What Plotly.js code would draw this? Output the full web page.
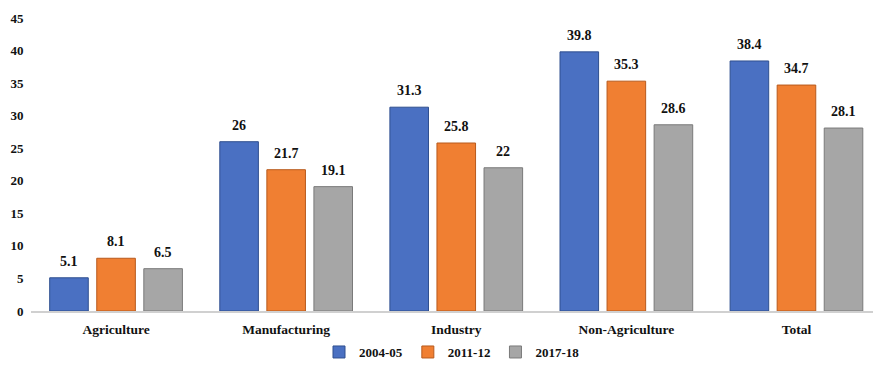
<!DOCTYPE html>
<html>
<head>
<meta charset="utf-8">
<script src="https://cdn.plot.ly/plotly-3.0.1.min.js"></script>
<style>
html,body{margin:0;padding:0;background:#fff;}
#chart{width:873px;height:370px;}
</style>
</head>
<body>
<div id="chart"></div>
<script>
const categories = ["Agriculture", "Manufacturing", "Industry", "Non-Agriculture", "Total"];
const seriesNames = ["2004-05", "2011-12", "2017-18"];
const values2004 = [5.1, 26, 31.3, 39.8, 38.4];
const values2011 = [8.1, 21.7, 25.8, 35.3, 34.7];
const values2017 = [6.5, 19.1, 22, 28.6, 28.1];
const yTicks = [0, 5, 10, 15, 20, 25, 30, 35, 40, 45];

const seriesValues = [values2004, values2011, values2017];
const fills = ["#4a70c2", "#f07f32", "#a6a6a6"];
const edges = ["#2f4f8f", "#b85a1c", "#7a7a7a"];
const fontFam = "Liberation Serif, Times New Roman, serif";

const traces = seriesValues.map((vals, i) => ({
  type: "bar",
  name: "<b>" + seriesNames[i] + "</b>",
  x: categories,
  y: vals,
  marker: {color: fills[i], line: {color: edges[i], width: 1}},
  hoverinfo: "skip"
}));

const annotations = [];
seriesValues.forEach((vals, i) => {
  vals.forEach((v, j) => {
    annotations.push({
      x: categories[j], y: v, xref: "x", yref: "y",
      text: "<b>" + String(v) + "</b>", showarrow: false,
      xshift: (i - 1) * 47, yshift: 7, yanchor: "bottom",
      font: {family: fontFam, size: 14, color: "#111"}
    });
  });
});

const layout = {
  width: 873, height: 370,
  margin: {l: 31, r: 0, t: 18, b: 59},
  paper_bgcolor: "#fff", plot_bgcolor: "#fff",
  barmode: "group", bargap: 0.17, bargroupgap: 0.18,
  font: {family: fontFam, color: "#111"},
  xaxis: {
    type: "category", range: [-0.5, 4.45],
    tickvals: categories, ticktext: categories.map(c => "<b>" + c + "</b>"),
    showline: true, linecolor: "#d0d0d0", linewidth: 1.5,
    showgrid: false, zeroline: false,
    ticks: "outside", ticklen: 5, tickcolor: "rgba(0,0,0,0)",
    tickfont: {family: fontFam, size: 13.5, color: "#111"}
  },
  yaxis: {
    range: [0, 45], tickvals: yTicks, ticktext: yTicks.map(t => "<b>" + t + "</b>"),
    showline: false, showgrid: false, zeroline: false,
    ticks: "outside", ticklen: 4, tickcolor: "rgba(0,0,0,0)",
    tickfont: {family: fontFam, size: 13, color: "#111"}
  },
  showlegend: true,
  legend: {
    orientation: "h", x: 0.5, xanchor: "center", y: -0.14, yanchor: "middle",
    bgcolor: "rgba(0,0,0,0)",
    font: {family: fontFam, size: 13, color: "#111"},
    itemwidth: 30, tracegroupgap: 0
  },
  annotations: annotations
};

Plotly.newPlot("chart", traces, layout, {displayModeBar: false, staticPlot: true});
</script>
</body>
</html>
